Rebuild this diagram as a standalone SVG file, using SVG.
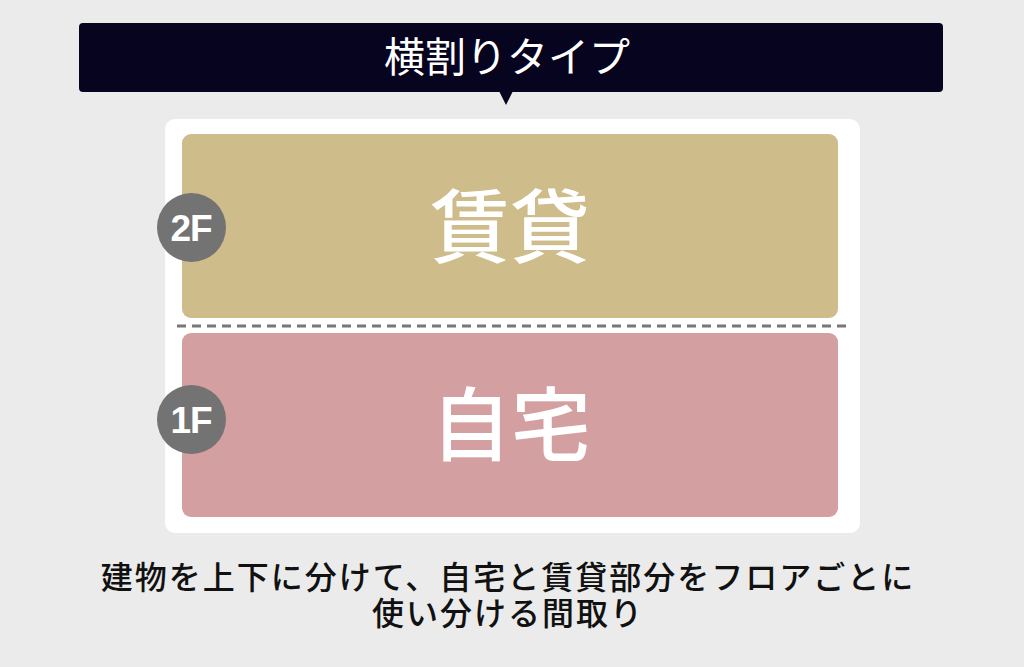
<svg xmlns="http://www.w3.org/2000/svg" width="1024" height="667" viewBox="0 0 1024 667">
  <style>
    .jp { font-family: "Noto Sans CJK JP", "Noto Sans", sans-serif; }
    .badge { fill: #737373; }
    .badgeText { font-family: "Liberation Sans", Arial, sans-serif; font-weight: bold; font-size: 37px; fill: #ffffff; text-anchor: middle; letter-spacing: -1px; }
    .floorText { font-family: "Noto Sans CJK JP", sans-serif; font-weight: 500; font-size: 80px; fill: #ffffff; text-anchor: middle; }
    .caption { font-family: "Liberation Sans", "Noto Sans CJK JP", sans-serif; font-weight: 500; font-size: 32px; letter-spacing: 2px; fill: #111111; text-anchor: middle; }
  </style>
  <rect x="0" y="0" width="1024" height="667" fill="#ebebeb"/>
  <g id="title">
    <rect x="79" y="23" width="864" height="69" rx="4" fill="#06041f"/>
    <polygon points="499,91 513,91 506,105" fill="#06041f"/>
    <text x="507" y="72" class="jp" font-size="41" fill="#ffffff" text-anchor="middle">横割りタイプ</text>
  </g>
  <g id="panel">
    <rect x="165" y="119" width="695" height="414" rx="10" fill="#ffffff"/>
  </g>
  <g id="floor2">
    <rect x="182" y="134" width="656" height="184" rx="9" fill="#cfbc8b"/>
    <text x="510" y="256" class="floorText">賃貸</text>
  </g>
  <g id="connectors">
    <line x1="177" y1="326" x2="850" y2="326" stroke="#777777" stroke-width="3" stroke-dasharray="9,6"/>
  </g>
  <g id="floor1">
    <rect x="182" y="333" width="656" height="184" rx="9" fill="#d39fa0"/>
    <text x="511" y="454" class="floorText">自宅</text>
  </g>
  <g id="badge2F">
    <circle cx="191.5" cy="227.5" r="34.5" class="badge"/>
    <text x="191" y="241" class="badgeText">2F</text>
  </g>
  <g id="badge1F">
    <circle cx="191.5" cy="419.5" r="34.5" class="badge"/>
    <text x="191" y="433" class="badgeText">1F</text>
  </g>
  <g id="caption">
    <text x="508" y="589" class="caption">建物を上下に分けて、自宅と賃貸部分をフロアごとに</text>
    <text x="508" y="625" class="caption">使い分ける間取り</text>
  </g>
</svg>
